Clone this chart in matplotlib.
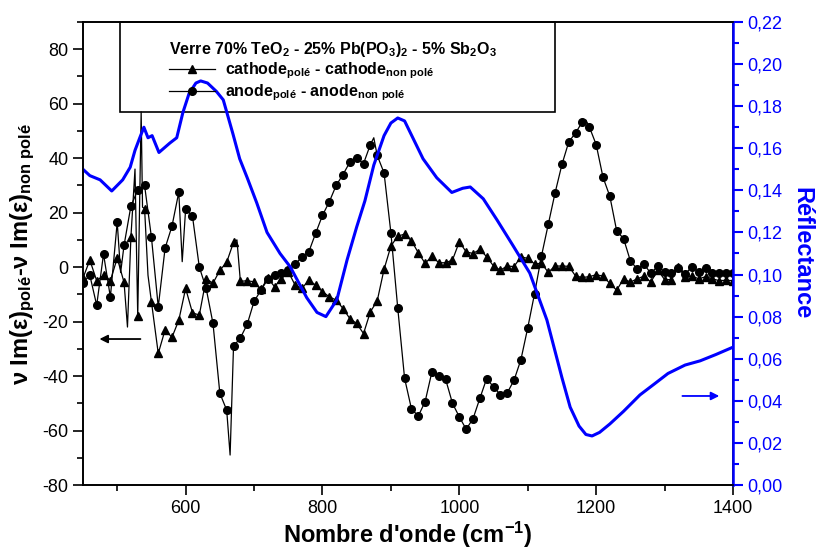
import numpy as np
import matplotlib
matplotlib.use("Agg")
import matplotlib.pyplot as plt
from matplotlib.lines import Line2D
from matplotlib.patches import Rectangle
from matplotlib.ticker import MultipleLocator, FuncFormatter

plt.rcParams['font.family'] = ['Liberation Sans', 'DejaVu Sans']
plt.rcParams['mathtext.fontset'] = 'custom'
plt.rcParams['mathtext.rm'] = 'Liberation Sans:bold'
plt.rcParams['mathtext.it'] = 'Liberation Sans:bold'
plt.rcParams['mathtext.bf'] = 'Liberation Sans:bold'
plt.rcParams['mathtext.default'] = 'rm'
plt.rcParams['axes.unicode_minus'] = False

# ---------------- data ----------------
cathode_x = [450, 460, 470, 480, 490, 500, 510, 515, 520, 526, 530, 535, 537, 540, 545, 550, 560, 570, 580, 590,
             600, 610, 620, 630, 640, 650, 660, 670, 675, 680, 690, 700, 710, 720, 730, 740, 750, 760,
             770, 780, 790, 800, 810, 820, 830, 840, 850, 860, 870, 880, 890, 900, 910, 920, 930,
             940, 950, 960, 970, 980, 990, 1000, 1010, 1020, 1030, 1040, 1050, 1060, 1070, 1080,
             1090, 1100, 1110, 1120, 1130, 1140, 1150, 1160, 1170, 1180, 1190, 1200, 1210, 1220,
             1230, 1240, 1250, 1260, 1270, 1280, 1290, 1300, 1310, 1320, 1330, 1340, 1350, 1360,
             1370, 1380, 1390, 1400]
cathode_y = [-4, 2.6, -5, -3, -5, 3.3, -5.6, -22, 10.9, 36, -18, 57, 22, 21.5, -3, -12.7, -31.7, -23, -25.8, -19.5,
             -7.8, -16.8, -17.6, -4.3, -5.9, -1.2, 1.8, 9.1, 10, -5.2, -5, -5.4, -8.2, -4, -7.2, -4.2, -1.7, -6.6,
             -7.8, -4.8, -6.6, -9, -10.9, -12.1, -15.2, -18.9, -20.7, -24.4, -16.4, -12.4, -0.8, 7.7, 11.4, 12.1, 9.7,
             5.3, 1.4, 4, 1.6, 1.6, 2.6, 9.3, 5.6, 5, 6.5, 3.8, 0.4, -1.1, 0.4, 0.2,
             3.8, 3.2, 1.2, 1.4, -1.9, 0.4, 0.4, 0.3, -3.3, -3.8, -3.5, -2.8, -3.3, -6,
             -8.5, -4.3, -5.5, -4.3, -3.3, -5.5, -1, -4.6, -4.6, 0, -3.5, -3.3, -4.3, -3.5,
             -4.3, -5, -4.8, -5]

anode_x = [450, 460, 470, 480, 490, 500, 505, 510, 520, 530, 540, 550, 560, 570, 580, 590, 595, 600, 610, 620,
           630, 640, 650, 660, 665, 670, 680, 690, 700, 710, 720, 730, 740, 750, 760, 770, 780, 790,
           800, 810, 820, 830, 840, 850, 860, 870, 875, 880, 890, 900, 910, 920, 930, 940, 950, 960,
           970, 980, 990, 1000, 1010, 1020, 1030, 1040, 1050, 1060, 1070, 1080, 1090, 1100, 1110,
           1120, 1130, 1140, 1150, 1160, 1170, 1180, 1185, 1190, 1200, 1210, 1220, 1230, 1240, 1250,
           1260, 1270, 1280, 1290, 1300, 1310, 1320, 1330, 1340, 1350, 1360, 1370, 1380, 1390, 1400]
anode_y = [-5.7, -3, -14, 4.8, -11, 16.5, -2, 8, 22.4, 28.3, 30, 11, -14.6, 7, 15, 27.5, 2, 21.3, 18.7, 0,
           -7.8, -20.7, -46.3, -52.5, -69, -29, -26, -21, -12.6, -8.5, -4.5, -3, -2, -1.1, 1, 3.8, 5.6, 12.4,
           19, 24, 30, 34, 38.5, 40, 38, 45, 47.5, 41, 34.6, 12.6, -15, -40.8, -52, -54.7, -49.4, -38.4,
           -40, -41.2, -50, -55, -59.5, -55.7, -48.2, -40.9, -44, -46.8, -46.2, -41.5, -34, -22.3, -9.7,
           4, 15.7, 27.3, 37.7, 46, 49.3, 53.4, 54, 51.5, 45, 33, 26, 13.3, 10.5, 2.3,
           -0.7, 1, -2.3, 0.4, -1.9, -2, -0.5, -2.5, 0.1, -1.8, -0.5, -2, -2, -2, -2]

refl_x = [450, 460, 475, 492, 508, 519, 526, 533, 539, 545, 551, 561, 577, 587, 596, 605, 615, 622,
          632, 645, 655, 669, 679, 690, 704, 719, 738, 753, 777, 792, 805, 821, 836, 850, 862, 875,
          890, 900, 910, 920, 935, 947, 967, 989, 1005, 1016, 1035, 1055, 1078, 1103, 1128, 1150,
          1162, 1175, 1185, 1194, 1205, 1220, 1240, 1264, 1285, 1305, 1330, 1352, 1375, 1400]
refl_y = [0.150, 0.147, 0.145, 0.1397, 0.145, 0.151, 0.159, 0.165, 0.170, 0.165, 0.166, 0.158, 0.1625,
          0.165, 0.177, 0.186, 0.191, 0.192, 0.191, 0.187, 0.183, 0.167, 0.155, 0.146, 0.134, 0.120,
          0.110, 0.1036, 0.089, 0.082, 0.080, 0.088, 0.107, 0.1226, 0.135, 0.152, 0.166, 0.172, 0.1744,
          0.173, 0.163, 0.155, 0.146, 0.139, 0.141, 0.1416, 0.136, 0.126, 0.114, 0.1007, 0.0784, 0.051,
          0.037, 0.028, 0.024, 0.0233, 0.025, 0.029, 0.035, 0.0428, 0.048, 0.053, 0.057, 0.059, 0.062,
          0.0655]

x_ticks = [600, 800, 1000, 1200, 1400]
left_ticks = [-80, -60, -40, -20, 0, 20, 40, 60, 80]
right_ticks = [0.00, 0.02, 0.04, 0.06, 0.08, 0.10, 0.12, 0.14, 0.16, 0.18, 0.20, 0.22]

BLUE = '#0000ff'

fig = plt.figure(figsize=(8.25, 5.53), dpi=100)
ax = fig.add_axes([83/825, 68/553, 650/825, 463/553])
ax2 = ax.twinx()

cx = np.array(cathode_x); cy = np.array(cathode_y)
axx = np.array(anode_x); ay = np.array(anode_y)

ax.plot(cx, cy, color='black', lw=0.9, marker='^', ms=5.5,
        markevery=list(cx % 10 == 0))
ax.plot(axx, ay, color='black', lw=0.9, marker='o', ms=5.5,
        markevery=list(axx % 10 == 0))
ax2.plot(refl_x, refl_y, color=BLUE, lw=2.2)

ax.set_xlim(450, 1400)
ax.set_ylim(-80, 90)
ax2.set_ylim(0, 0.22)

ax.set_xticks(x_ticks)
ax.xaxis.set_minor_locator(MultipleLocator(100))
ax.set_yticks(left_ticks)
ax.yaxis.set_minor_locator(MultipleLocator(10))
ax2.set_yticks(right_ticks)
ax2.yaxis.set_minor_locator(MultipleLocator(0.01))
ax2.yaxis.set_major_formatter(FuncFormatter(lambda v, p: f"{v:.2f}".replace('.', ',')))

for a in (ax, ax2):
    for s in a.spines.values():
        s.set_linewidth(1.2)
ax2.spines['right'].set_color(BLUE)
ax2.spines['right'].set_linewidth(1.8)

ax.tick_params(axis='both', which='major', direction='out', length=7, width=1.2, labelsize=13)
ax.tick_params(axis='both', which='minor', direction='out', length=4, width=1.2)
ax.tick_params(top=False, right=False, which='both')
ax2.tick_params(axis='y', which='major', direction='out', length=7, width=1.5,
                colors=BLUE, labelsize=13)
ax2.tick_params(axis='y', which='minor', direction='out', length=4, width=1.5, colors=BLUE)

ax.set_xlabel("Nombre d'onde (cm$^{-1}$)", fontsize=17, fontweight='bold', labelpad=2)
ax.set_ylabel("ν Im(ε)$_{polé}$-ν Im(ε)$_{non\\ polé}$", fontsize=17, fontweight='bold', labelpad=4)
ax2.set_ylabel("Réflectance", fontsize=17, fontweight='bold', color=BLUE, rotation=-90, labelpad=22)

# legend frame
ax.add_patch(Rectangle((0.057, 0.806), 0.669, 0.194, transform=ax.transAxes,
                       fill=False, edgecolor='black', lw=1.2, zorder=5, clip_on=False))
handles = [Line2D([], [], color='black', lw=0.9, marker='^', ms=5.5),
           Line2D([], [], color='black', lw=0.9, marker='o', ms=5.5)]
labels = ["cathode$_{polé}$ - cathode$_{non\\ polé}$",
          "anode$_{polé}$ - anode$_{non\\ polé}$"]
leg = ax2.legend(handles, labels, loc='upper left', bbox_to_anchor=(0.115, 0.985),
                 frameon=False, alignment='left', handlelength=2.9, handletextpad=0.6,
                 labelspacing=0.08, borderpad=0.2,
                 title="Verre 70% TeO$_2$ - 25% Pb(PO$_3$)$_2$ - 5% Sb$_2$O$_3$",
                 prop={'weight': 'bold', 'size': 11.5},
                 title_fontproperties={'weight': 'bold', 'size': 11.5})

# arrows
ax.annotate('', xy=(470, -26.4), xytext=(538, -26.4),
            arrowprops=dict(arrowstyle='-|>', color='black', lw=1.3, mutation_scale=12))
ax2.annotate('', xy=(1384, 0.0423), xytext=(1322, 0.0423),
             arrowprops=dict(arrowstyle='-|>', color=BLUE, lw=1.3, mutation_scale=12))

fig.savefig('out.png', dpi=100)
